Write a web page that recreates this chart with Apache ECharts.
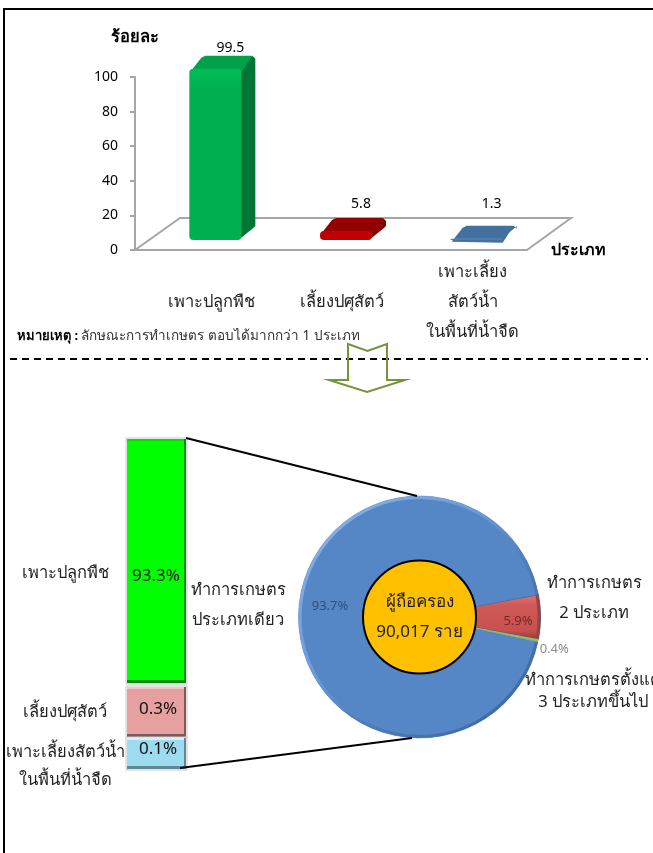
<!DOCTYPE html>
<html><head><meta charset="utf-8">
<style>html,body{margin:0;padding:0;background:#fff;overflow:hidden}#c{width:653px;height:853px}</style>
<script src="https://cdn.jsdelivr.net/npm/echarts@6/dist/echarts.min.js"></script>
</head><body><div id="c"></div>
<script>
const FONT = '"Noto Sans","DejaVu Sans",sans-serif';
const typeCategories = ['เพาะปลูกพืช', 'เลี้ยงปศุสัตว์', 'เพาะเลี้ยง\nสัตว์น้ำ\nในพื้นที่น้ำจืด'];
const typeValues = [99.5, 5.8, 1.3];
const yTicks = [0, 20, 40, 60, 80, 100];
const singleCategories = ['เพาะปลูกพืช', 'เลี้ยงปศุสัตว์', 'เพาะเลี้ยงสัตว์น้ำ\nในพื้นที่น้ำจืด'];
const singleValues = [93.3, 0.3, 0.1];
const holderNames = ['ทำการเกษตร\n2 ประเภท', 'ทำการเกษตรตั้งแต่\n3 ประเภทขึ้นไป', 'ทำการเกษตร\nประเภทเดียว'];
const holderValues = [5.9, 0.4, 93.7];
const holderCount = 90017;
const centerTitle = 'ผู้ถือครอง';
const noteBold = 'หมายเหตุ : ';
const noteText = 'ลักษณะการทำเกษตร ตอบได้มากกว่า 1 ประเภท';

const G = echarts.graphic;
const barSkins = [
  {front:['#00BE58','#00B050'], side:'#007635', top:'#00A148'},
  {front:['#D40000','#C00000'], side:'#860000', top:'#940000'},
  {front:['#6E9FDD','#4A7CB9'], side:'#3A6599', top:'#44709F'}
];
const panelSkins = [
  {face:'#00FF00', dark:'#009000', light:'#00E000'},
  {face:'#E6A0A0', dark:'#805858', light:'#F2C8C8'},
  {face:'#9CDCEE', dark:'#5E8896', light:'#D4F2FA'}
];
const panels = [{top:439,height:244},{top:687,height:50},{top:738,height:31}];

function renderBar(params, api) {
  const p = api.coord([api.value(0), api.value(1)]);
  const b = api.coord([api.value(0), 0]);
  const s = barSkins[params.dataIndex];
  const x0 = p[0] - 11, x1 = p[0] + 41, top = p[1] - 9, base = b[1] - 10, dx = 14, dy = 13;
  return {type:'group', children:[
    {type:'polygon', shape:{points:[[x1-3,top+3],[x1+dx-3,top-dy],[x1+dx,top-dy+3],[x1+dx,base-dy-1],[x1+dx-2,base-dy+1],[x1-3,base]]}, style:{fill:s.side}},
    {type:'polygon', shape:{points:[[x0+1,top+3],[x0+dx-2,top-dy+2],[x0+dx+2,top-dy],[x1+dx-3,top-dy],[x1,top+4]]}, style:{fill:s.top}},
    {type:'rect', shape:{x:x0,y:top,width:52,height:base-top,r:Math.min(4,(base-top)/2)},
      style:{fill:new G.LinearGradient(0,0,0,1,[{offset:0,color:s.front[0]},{offset:0.12,color:s.front[1]},{offset:1,color:s.front[1]}])}},
    {type:'text', style:{text:String(api.value(1)), x:p[0]+30, y:Math.min(top-dy-8,204), align:'center', verticalAlign:'middle', fill:'#000', font:'14px '+FONT}}
  ]};
}
function renderFloor(params) {
  const c = params.coordSys, l = c.x, r = c.x + c.width, b = c.y + c.height;
  return {type:'polyline', shape:{points:[[l,b],[l+45,b-32],[r+44,b-32],[r,b]]}, style:{fill:null, stroke:'#A6A6A6', lineWidth:2}};
}
function renderPanel(k) {
  return function(params, api) {
    const s = panelSkins[k];
    const t = api.coord([0, api.value(1)]), b = api.coord([0, 0]), w = api.size([1,0])[0];
    const x = t[0] - w/2, y = t[1], h = b[1] - t[1];
    return {type:'group', children:[
      {type:'rect', shape:{x:x-1,y:y-1,width:w+2,height:h+2}, style:{fill:'#fff', stroke:'#C8C8C8', lineWidth:1}},
      {type:'rect', shape:{x,y,width:w,height:h}, style:{fill:s.face}},
      {type:'rect', shape:{x,y,width:w,height:2}, style:{fill:s.light}},
      {type:'rect', shape:{x,y:y+h-3,width:w,height:3}, style:{fill:s.dark}},
      {type:'rect', shape:{x:x+w-2,y,width:2,height:h}, style:{fill:s.dark}},
      {type:'text', style:{text:api.value(1)+'%', x:x+w/2+(k?1.5:-0.5), y:y+h/2+(k===0?15:(k===1?-3:-4)), align:'center', verticalAlign:'middle', fill:'#111', font:'17px '+FONT}}
    ]};
  };
}
const txt = (text, x, y, o) => ({type:'text', z:20, style:Object.assign({text, x, y, align:'center', verticalAlign:'middle', fill:'#222', font:'16.5px '+FONT, lineHeight:30}, o||{})});
const line = (a, b, o) => ({type:'line', z:15, shape:{x1:a[0],y1:a[1],x2:b[0],y2:b[1]}, style:Object.assign({stroke:'#000', lineWidth:2}, o||{})});

const grids = [{left:135, top:77, width:392, height:173}].concat(panels.map(p => ({left:127, width:59, top:p.top, height:p.height})));
const xAxes = [{
  type:'category', gridIndex:0, data:typeCategories, boundaryGap:true,
  name:'ประเภท', nameLocation:'end', nameGap:24,
  nameTextStyle:{fontFamily:FONT, fontWeight:'bold', fontSize:16, color:'#000', verticalAlign:'middle'},
  axisLine:{lineStyle:{color:'#A6A6A6', width:2}}, axisTick:{show:false},
  axisLabel:{fontFamily:FONT, fontSize:16.5, color:'#222', lineHeight:30, margin:52, verticalAlign:'middle', padding:[0,0,0,22]}
}].concat(panels.map((p,i) => ({type:'category', gridIndex:i+1, data:[''], show:false})));
const yAxes = [{
  type:'value', gridIndex:0, min:yTicks[0], max:yTicks[yTicks.length-1], interval:20,
  name:'ร้อยละ', nameLocation:'end', nameGap:31,
  nameTextStyle:{fontFamily:FONT, fontWeight:'bold', fontSize:16.5, color:'#000', align:'center'},
  splitLine:{show:false}, axisLine:{show:true, lineStyle:{color:'#A6A6A6', width:2}},
  axisTick:{show:true, length:5, lineStyle:{color:'#A6A6A6', width:2}},
  axisLabel:{fontFamily:FONT, fontSize:14, color:'#000', margin:17}
}].concat(singleValues.map((v,i) => ({type:'value', gridIndex:i+1, min:0, max:v, show:false})));

const rim = new G.LinearGradient(299,496,540,738,[
  {offset:0,color:'#8FB6E8'},{offset:0.4,color:'#6C9BD8'},{offset:0.6,color:'#4F7DB8'},{offset:1,color:'#3A6296'}],true);
rim.global = true;
const sliceColors = [new G.LinearGradient(0,0,0,1,[{offset:0,color:'#E07070'},{offset:0.25,color:'#D05A58'},{offset:0.8,color:'#C8504E'},{offset:1,color:'#8E3A38'}]),'#9BBB59','#5586C6'];
const sliceLabelColors = ['#6E2A2A','#8C8C8C','#2F4F7F'];

const option = {
  animation:false, backgroundColor:'#fff',
  grid:grids, xAxis:xAxes, yAxis:yAxes,
  series:[
    {type:'custom', xAxisIndex:0, yAxisIndex:0, z:1, silent:true, data:[[0,0]], renderItem:renderFloor},
    {type:'custom', xAxisIndex:0, yAxisIndex:0, z:3, data:typeValues.map((v,i)=>[i,v]), renderItem:renderBar, encode:{x:0,y:1}},
    ...singleValues.map((v,i)=>({type:'custom', xAxisIndex:i+1, yAxisIndex:i+1, z:3, data:[[0,v]], renderItem:renderPanel(i), encode:{x:0,y:1}})),
    {type:'pie', center:[419.5,617], radius:[56,121], startAngle:10.7, clockwise:true, z:5, avoidLabelOverlap:false, labelLine:{show:false},
      data:holderValues.map((v,i)=>({value:v, name:holderNames[i],
        label:{color:sliceLabelColors[i]},
        itemStyle:{color:sliceColors[i], borderColor:['#3E5F8C','#9BBB59','#4A78B4'][i], borderWidth:[1,0,0.5][i]}})),
      label:{show:true, position:'inside', formatter:'{c}%', fontFamily:FONT, fontSize:13},
      labelLayout:p=>[{dx:7,dy:4},{dx:45,dy:14},{dx:2,dy:-10}][p.dataIndex]
    },
    {type:'pie', center:[419.5,617], radius:[118,121], startAngle:10.7, z:6, silent:true, label:{show:false}, labelLine:{show:false},
      data:holderValues.map((v,i)=>({value:v, itemStyle:{color:i===2?rim:(i===0?'#9A4442':'#9BBB59')}}))},
    {type:'pie', center:[419.5,617], radius:[0,56.5], z:8, silent:true, labelLine:{show:false},
      data:[{value:holderCount, name:centerTitle, itemStyle:{color:'#FFC000', borderColor:'#000', borderWidth:2}}],
      label:{show:true, position:'center', lineHeight:30, fontFamily:FONT, fontSize:17, color:'#222',
        formatter:p=>p.name+'\n'+p.value.toLocaleString('en-US')+' ราย'}}
  ],
  graphic:[
    {type:'polyline', z:30, shape:{points:[[4,853],[4,9],[653,9]]}, style:{fill:null, stroke:'#000', lineWidth:2}},
    line([10,359],[648,359],{lineDash:[7,5]}),
    {type:'polygon', z:16, shape:{points:[[348,344],[367.5,351],[387,344],[387,380],[405,380],[367,392],[329,380],[348,380]]},
      style:{fill:'rgba(0,0,0,0)', stroke:'#76933C', lineWidth:2}},
    {type:'text', z:20, style:{x:17, y:336, verticalAlign:'middle', text:'{b|'+noteBold+'}{n|'+noteText+'}',
      rich:{b:{fontFamily:FONT,fontWeight:'bold',fontSize:13,fill:'#000',color:'#000'}, n:{fontFamily:FONT,fontSize:13.5,fill:'#333',color:'#333'}}}},
    line([186,438],[417,496]), line([180,768],[412,738]),
    txt(singleCategories[0],65,573), txt(singleCategories[1],65,712), txt(singleCategories[2],65,766,{lineHeight:28}),
    txt(holderNames[0],594,598), txt(holderNames[1],593,691,{lineHeight:22}), txt(holderNames[2],238,605)
  ]
};
const chart = echarts.init(document.getElementById('c'), null, {renderer:'canvas', width:653, height:853});
chart.setOption(option);
</script></body></html>
